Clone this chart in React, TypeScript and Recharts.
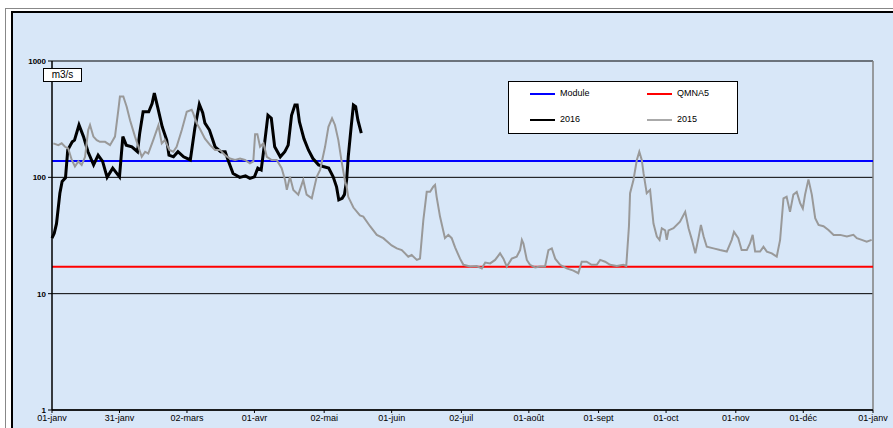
import * as React from 'react';
import { LineChart, Line, XAxis, YAxis, CartesianGrid, ReferenceLine } from 'recharts';

// day of year (0 = 01-janv) and daily flow in m3/s
const days2016 = [0, 1, 2, 3.5, 4.5, 6, 7, 9, 10, 12, 14, 16, 18.5, 20.5, 22.5, 24.5, 27, 30, 31.5, 33,
  35.5, 38, 39, 40.5, 43, 44.5, 45.5, 47, 49, 51, 52, 54, 56, 58.5, 61.5, 63.5, 65.5, 67, 68, 70,
  72.5, 75, 77, 78.5, 80.5, 83.5, 86, 88, 90, 91.5, 93, 94.5, 96, 97.5, 99, 101.5, 103.5, 105, 106.5, 108,
  109, 110, 112, 114, 116, 118.5, 120.5, 123, 125, 126.5, 127.5, 129, 130, 131, 131.7, 133, 134, 135, 136, 137.5];
const flow2016 = [30, 33, 40, 73, 92, 99, 172, 202, 209, 282, 224, 166, 128, 155, 137, 100, 120, 101, 224, 189,
  183, 166, 240, 366, 366, 430, 530, 400, 272, 209, 155, 150, 166, 150, 141, 264, 425, 360, 292, 255,
  183, 166, 166, 137, 108, 100, 103, 98, 101, 120, 116, 196, 342, 322, 183, 150, 166, 189, 342, 418,
  418, 300, 215, 172, 145, 128, 124, 120, 101, 83, 64, 66, 71, 95, 150, 272, 418, 405, 310, 240];

const days2015 = [0.6, 2.8, 4.3, 5.8, 7.2, 8.8, 10.2, 11.7, 13.2, 14.7, 16.1, 16.9, 18.4, 19.9, 21.3, 23.6, 25.8, 28, 29.5, 30.2,
  31.7, 33.2, 34.7, 36.9, 38.4, 39.9, 41.4, 42.8, 45, 47.3, 48.8, 50.2, 52.2, 53.9, 55.4, 57.7, 58.7, 59.9, 62.1, 62.8,
  64.3, 65.8, 68, 70.3, 72.5, 74.7, 76.9, 79.1, 81.4, 83.6, 85.8, 88, 89.5, 90.3, 91.3, 92.5, 94, 95.5, 97.7, 99.9,
  102.1, 103.6, 104.4, 105.8, 107.3, 109.5, 111.7, 113.2, 115.5, 117.7, 119.2, 121.4, 122.9, 124.5, 125.8, 127.3, 128.8, 130.3, 131, 131.7,
  134, 136.9, 138.4, 141.4, 144.4, 147.3, 151, 153.3, 155.5, 158.4, 159.9, 162.2, 163.6, 165.1, 166.6, 168.1, 169.5, 170.3, 171, 172.5,
  174.7, 176.2, 177.7, 179.2, 181.4, 182.9, 185.9, 188.8, 191.1, 192.6, 194.8, 197, 199.2, 200.7, 202.2, 204.4, 206.6, 208.1, 208.9, 209.6,
  211.1, 212.5, 214.8, 217, 219.2, 220.7, 222.2, 223.7, 225.9, 228.8, 231.8, 234, 235.5, 237.7, 239.9, 242.2, 243.7, 245.9, 248.1, 251.1,
  254, 255.3, 256.5, 257, 258.5, 260, 261.1, 262.2, 263, 264.4, 265.9, 267.4, 268.9, 270.1, 271.1, 272.6, 273.3, 274.1, 276.3, 279.2,
  281.5, 283, 284.5, 286, 287.4, 288.5, 289.7, 291.1, 294.1, 297, 300, 302.2, 303.2, 305.1, 306.6, 308.9, 310.3, 311.5, 312.6, 314.8,
  316.3, 317.8, 320, 322.2, 323.7, 325.2, 326.6, 328.1, 329.6, 331.1, 332.6, 333.8, 334.8, 336.3, 337.8, 339.3, 340.8, 343, 345.2, 347.5,
  350.4, 353.4, 356.3, 357.8, 360, 362.2, 364.4];
const flow2015 = [196, 189, 196, 183, 177, 141, 124, 137, 128, 150, 255, 282, 224, 209, 202, 202, 189, 224, 380, 495,
  495, 405, 310, 224, 183, 150, 166, 160, 209, 280, 196, 209, 172, 166, 183, 255, 300, 366, 380, 355,
  292, 260, 215, 189, 172, 172, 155, 145, 141, 145, 141, 132, 137, 235, 235, 183, 196, 150, 141, 141,
  120, 95, 78, 101, 78, 71, 95, 71, 66, 101, 116, 183, 272, 322, 282, 209, 135, 92, 83, 68,
  55, 47, 46, 38, 32, 30, 26, 24.5, 23.7, 20.8, 21.5, 19.5, 20, 43, 75, 75, 83, 86, 68, 46,
  30, 32, 30, 25, 20, 17.7, 17.1, 17.3, 16.5, 18.5, 18.2, 19.5, 22.2, 20, 17.1, 20, 20.8, 23.7, 29, 27,
  19.5, 17.7, 16.8, 17.1, 17.1, 23.7, 24.5, 20, 17.7, 16.5, 15.8, 15, 18.8, 18.8, 17.7, 17.7, 19.5, 18.8, 17.7, 17.3,
  17.7, 17.3, 38, 73, 95, 141, 166, 141, 108, 73, 78, 40, 31, 29, 36.5, 35, 29, 35, 36.5, 41.5,
  50.5, 36.5, 29, 22.2, 30, 39, 31, 25.3, 24.5, 23.7, 23, 29, 34, 30, 23.7, 23.7, 27, 32, 23, 23,
  25.3, 23, 22.2, 20.8, 29, 66, 68, 50.5, 71, 75, 60, 54, 71, 96, 71, 44.5, 39, 38, 35.3, 32,
  32, 31, 32, 30, 29, 28, 29];

const moduleFlow = 138;
const qmna5Flow = 17;

const tickDays = [0, 30, 60, 90, 121, 151, 182, 212, 243, 273, 304, 334, 365];
const tickLabels = ['01-janv', '31-janv', '02-mars', '01-avr', '02-mai', '01-juin', '02-juil', '01-août', '01-sept', '01-oct', '01-nov', '01-déc', '01-janv'];
const yTicks = [1, 10, 100, 1000];

const data2016 = days2016.map((d, i) => ({ day: d, flow: flow2016[i] }));
const data2015 = days2015.map((d, i) => ({ day: d, flow: flow2015[i] }));

const font = 'Arial, "Liberation Sans", sans-serif';

function LegendItem({ x, y, color, label }: { x: number; y: number; color: string; label: string }) {
  return (
    <>
      <div style={{ position: 'absolute', left: x, top: y - 1, width: 25, height: 2, background: color }} />
      <div style={{ position: 'absolute', left: x + 30, top: y - 6, fontSize: 9, lineHeight: '11px', fontFamily: font, color: '#000' }}>{label}</div>
    </>
  );
}

export default function App() {
  return (
    <div style={{ position: 'absolute', left: 0, top: 0, width: 893, height: 428, overflow: 'hidden', background: '#fff' }}>
      <div style={{ position: 'absolute', left: 5, top: 8, width: 920, height: 440, border: '1px solid #888' }} />
      <div style={{ position: 'absolute', left: 11, top: 11, width: 920, height: 440, border: '2px solid #000', background: '#d8e7f8' }} />
      <LineChart width={893} height={428} data={data2015} margin={{ top: 61, right: 20, bottom: 0, left: 0 }}
        style={{ position: 'absolute', left: 0, top: 0 }}>
        <CartesianGrid vertical={false} stroke="#000" strokeWidth={1} />
        <XAxis type="number" dataKey="day" domain={[0, 365]} ticks={tickDays} height={18}
          tickFormatter={(v: number) => tickLabels[tickDays.indexOf(v)]}
          axisLine={{ stroke: '#000', strokeWidth: 1.5 }} tickLine={{ stroke: '#000' }} tickSize={3}
          interval={0} tick={{ fill: '#000', fontSize: 9, fontFamily: font }} />
        <YAxis type="number" scale="log" domain={[1, 1000]} ticks={yTicks} allowDataOverflow width={52}
          axisLine={{ stroke: '#000', strokeWidth: 1.5 }} tickLine={{ stroke: '#000' }} tickSize={4}
          interval={0} tick={{ fill: '#000', fontSize: 8, fontWeight: 'bold', fontFamily: font }} />
        <ReferenceLine x={365} stroke="#808080" strokeWidth={1.5} />
        <ReferenceLine y={moduleFlow} stroke="#0000ff" strokeWidth={2} />
        <ReferenceLine y={qmna5Flow} stroke="#ff0000" strokeWidth={2} />
        <Line data={data2016} dataKey="flow" type="linear" stroke="#000" strokeWidth={3} dot={false} isAnimationActive={false} />
        <Line data={data2015} dataKey="flow" type="linear" stroke="#999" strokeWidth={2} dot={false} isAnimationActive={false} />
      </LineChart>
      <div style={{ position: 'absolute', left: 43, top: 68, width: 37, height: 12, border: '1px solid #000', background: '#fff',
        fontSize: 10, lineHeight: '12px', fontFamily: font, textAlign: 'center', color: '#000' }}>m3/s</div>
      <div style={{ position: 'absolute', left: 508, top: 81, width: 228, height: 51, border: '1px solid #000', background: '#fff' }}>
        <LegendItem x={21} y={12} color="#0000ff" label="Module" />
        <LegendItem x={138} y={12} color="#ff0000" label="QMNA5" />
        <LegendItem x={21} y={38} color="#000" label="2016" />
        <LegendItem x={138} y={38} color="#aaa" label="2015" />
      </div>
    </div>
  );
}
